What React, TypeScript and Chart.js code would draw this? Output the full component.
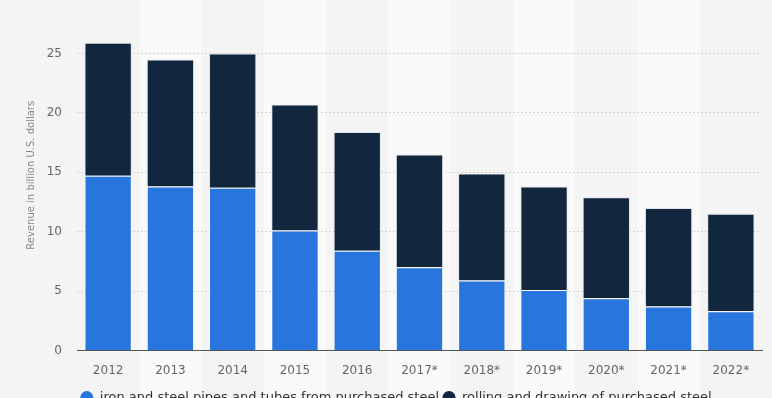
import React, { useEffect, useRef } from "react";
import { Chart, registerables } from "chart.js";

Chart.register(...registerables);

const categories = ["2012", "2013", "2014", "2015", "2016", "2017*", "2018*", "2019*", "2020*", "2021*", "2022*"];
const pipesTubes = [14.7, 13.8, 13.7, 10.1, 8.4, 7.0, 5.9, 5.1, 4.4, 3.7, 3.3];
const rollingDrawing = [11.2, 10.7, 11.3, 10.6, 10.0, 9.5, 9.0, 8.7, 8.5, 8.3, 8.2];
const seriesNames = ["iron and steel pipes and tubes from purchased steel", "rolling and drawing of purchased steel"];
const seriesColors = ["#2876dd", "#12263e"];
const yTicks = [0, 5, 10, 15, 20, 25];
const yTitle = "Revenue in billion U.S. dollars";

const FONT = "'DejaVu Sans', sans-serif";
const W = 772;
const H = 414;

const bandsPlugin = {
  id: "bands",
  beforeDraw(chart: any) {
    const { ctx, width, height, scales } = chart;
    const x = scales.x;
    ctx.save();
    ctx.fillStyle = "#f4f4f4";
    ctx.fillRect(0, 0, width, height);
    ctx.fillStyle = "#fafafa";
    const n = categories.length;
    const step = (x.right - x.left) / n;
    for (let i = 0; i < n; i++) {
      if (i % 2 === 1) {
        const l = x.getPixelForValue(i) - step / 2;
        ctx.fillRect(l, 0, step, height);
      }
    }
    ctx.restore();
  },
};

export default function App() {
  const ref = useRef<HTMLCanvasElement>(null);
  useEffect(() => {
    const chart = new Chart(ref.current!, {
      type: "bar",
      data: {
        labels: categories,
        datasets: [
          {
            label: seriesNames[0],
            data: pipesTubes,
            backgroundColor: seriesColors[0],
            borderColor: "rgba(255,255,255,0.75)",
            borderWidth: 1,
            barPercentage: 0.76,
            categoryPercentage: 1,
          },
          {
            label: seriesNames[1],
            data: rollingDrawing,
            backgroundColor: seriesColors[1],
            borderColor: "rgba(220,226,234,0.9)",
            borderWidth: 1,
            barPercentage: 0.76,
            categoryPercentage: 1,
          },
        ],
      },
      plugins: [bandsPlugin],
      options: {
        animation: false,
        responsive: false,
        maintainAspectRatio: false,
        layout: { padding: { top: 0, right: 10, left: 30, bottom: 0 } },
        scales: {
          x: {
            stacked: true,
            grid: { display: false },
            border: { display: true, color: "#555555", width: 1 },
            ticks: { color: "#666666", font: { family: FONT, size: 12 }, padding: 5, maxRotation: 0 },
            afterFit(s: any) { s.height = 37; },
          },
          y: {
            stacked: true,
            min: 0,
            max: 29.5,
            afterBuildTicks(s: any) {
              s.ticks = yTicks.map((v) => ({ value: v }));
            },
            grid: { color: "#d4d4d4", drawTicks: false },
            border: { display: false, dash: [2, 2] },
            ticks: { color: "#666666", font: { family: FONT, size: 12 }, padding: 15 },
            title: {
              display: true,
              text: yTitle,
              color: "#888888",
              font: { family: FONT, size: 10 },
              padding: { top: -5, bottom: 0 },
            },
            afterFit(s: any) {
              s.width = 47;
              s.paddingTop = 0;
            },
          },
        },
        plugins: {
          legend: {
            position: "bottom",
            labels: {
              usePointStyle: true,
              pointStyle: "circle",
              boxWidth: 13,
              boxHeight: 9.2,
              pointStyleWidth: 13,
              color: "#333333",
              font: { family: FONT, size: 13 },
              padding: 3.5,
              generateLabels(chart: any) {
                return chart.data.datasets.map((ds: any, i: number) => ({
                  text: ds.label,
                  fillStyle: seriesColors[i],
                  strokeStyle: seriesColors[i],
                  lineWidth: 0,
                  pointStyle: "circle",
                  hidden: false,
                  datasetIndex: i,
                  fontColor: "#333333",
                }));
              },
            },
          },
          tooltip: { enabled: false },
        },
      },
    });
    return () => chart.destroy();
  }, []);
  return (
    <div style={{ position: "fixed", top: 0, left: 0, width: W, height: H }}>
      <canvas ref={ref} width={W} height={H} style={{ width: W, height: H }} />
    </div>
  );
}
